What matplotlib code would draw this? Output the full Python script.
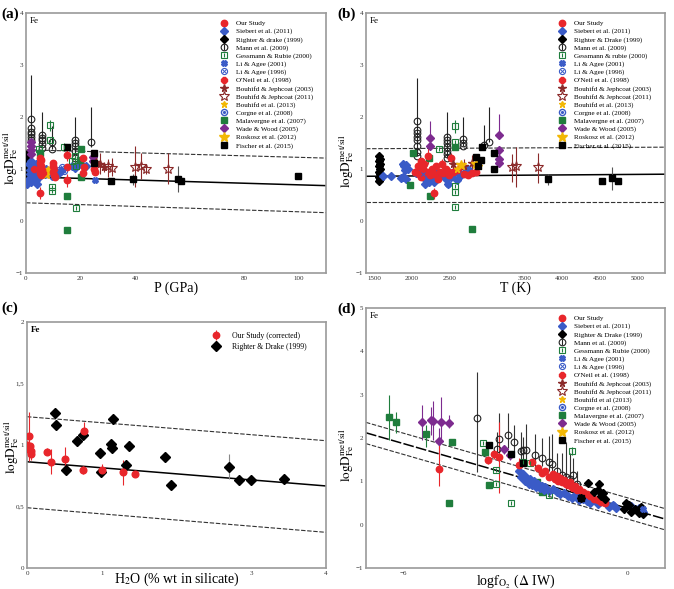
import numpy as np
import matplotlib
matplotlib.use('Agg')
import matplotlib.pyplot as plt
from matplotlib.lines import Line2D

plt.rcParams['font.family'] = ['Liberation Serif', 'DejaVu Serif']
plt.rcParams['mathtext.fontset'] = 'stix'

RED = '#e8262b'
BLUE = '#3a5bc7'
GREEN = '#1f7d3c'
PURPLE = '#7d2b8f'
DARKRED = '#8b2a2a'
GOLD = '#f2b705'

# ---------------- panel (a): P (GPa) ----------------
A_RIGHTER_X = [0.4, 0.6, 0.4, 0.6, 0.4, 0.6, 0.4, 0.6, 0.4, 0.6, 0.4, 1.0, 1.0, 1.0]
A_RIGHTER_Y = [0.78, 0.83, 0.88, 0.93, 0.98, 1.03, 1.08, 1.13, 1.18, 1.23, 1.28, 0.85, 0.95, 1.1]
A_SIEBERT_X = [0.5, 1, 1.5, 2, 2.5, 3, 3, 3.5, 4, 4, 4.5, 5, 1, 2, 3, 4, 1.5, 2.5, 3.5,
               6, 7, 7.5, 8, 10, 11, 12, 13, 17, 18, 19, 20, 22]
A_SIEBERT_Y = [0.72, 0.8, 0.9, 0.75, 0.85, 0.95, 1.05, 0.78, 0.88, 1.0, 0.82, 0.92, 1.1, 1.15,
               1.08, 0.72, 0.98, 1.0, 1.1, 0.95, 0.9, 1.0, 0.93, 0.95, 0.9, 0.92, 0.97, 1.05,
               1.02, 1.08, 1.1, 1.05]
A_OUR_X = [5.0, 5.3, 5.3, 5.3, 5.3, 5.6, 5.6, 5.6, 6.0, 9.8, 10.0, 10.0, 10.2, 10.2, 10.5,
           15.1, 15.1, 15.1, 20.8, 21.0, 21.2, 25.3, 25.0]
A_OUR_Y = [0.54, 1.22, 1.12, 1.02, 0.92, 1.17, 1.05, 0.88, 0.98, 1.12, 1.05, 0.95, 0.88, 1.0,
           0.85, 1.26, 1.04, 0.78, 1.22, 0.92, 1.04, 0.94, 1.0]
A_OUR_ERR = [0.12, 0.08, 0.05, 0, 0, 0.05, 0, 0, 0, 0.05, 0, 0, 0, 0, 0, 0.1, 0, 0.12,
             0.05, 0, 0, 0.05, 0]
A_MANN_X = [2, 2, 2, 2, 2, 2, 6, 6, 6, 6, 6, 9.5, 9.5, 18, 18, 18, 18, 18, 24]
A_MANN_Y = [1.97, 1.78, 1.72, 1.67, 1.62, 1.55, 1.65, 1.6, 1.55, 1.48, 1.4, 1.52, 1.38,
            1.55, 1.5, 1.45, 1.35, 1.22, 1.52]
A_MANN_HI = [0.83, 0, 0, 0, 0, 0, 0.45, 0, 0, 0, 0, 0.3, 0, 0.45, 0, 0, 0, 0, 0.68]
A_MANN_LO = [0.42, 0, 0, 0, 0, 0, 0.25, 0, 0, 0, 0, 0.14, 0, 0.33, 0, 0, 0, 0, 0.1]
A_GESS_X = [4.8, 8.8, 8.8, 9.5, 9.5, 13.9, 18.0, 18.3, 18.2, 17.0]
A_GESS_Y = [1.38, 1.84, 1.55, 0.66, 0.57, 1.42, 1.25, 1.05, 0.25, 1.15]
A_GESS_ERR = [0, 0.1, 0, 0, 0, 0.08, 0, 0, 0, 0]
A_MALAV_X = [14.9, 14.9, 19.9, 20.0, 20.0, 5.3]
A_MALAV_Y = [0.49, -0.17, 1.17, 1.39, 0.85, 1.3]
A_WADE_X = [2, 2, 2, 2, 24.5, 24.5]
A_WADE_Y = [1.52, 1.44, 1.36, 1.28, 1.23, 1.15]
A_FISCH_X = [15, 25, 25, 31.1, 39.1, 55.8, 57.0, 99.7]
A_FISCH_Y = [1.42, 1.3, 1.12, 0.76, 0.80, 0.80, 0.76, 0.87]
A_FISCH_ERR = [0, 0, 0, 0, 0.1, 0.25, 0, 0]
A_BJ03_X = [25.5, 27.0, 28.6]
A_BJ03_Y = [1.13, 1.1, 1.04]
A_BJ03_ERR = [0.15, 0.2, 0.1]
A_BJ11_X = [30.0, 31.6, 39.9, 42.0, 44.0, 51.9]
A_BJ11_Y = [1.05, 1.02, 1.04, 1.05, 1.0, 1.0]
A_BJ11_HI = [0.15, 0.2, 0.4, 0.25, 0.1, 0.3]
A_BJ11_LO = [0.2, 0.15, 0.38, 0.25, 0.1, 0.28]
A_LI01_X = [10, 25.3]
A_LI01_Y = [0.85, 0.78]
A_LI96_X = [12.1, 13.3, 13.8]
A_LI96_Y = [0.98, 1.04, 0.96]
A_ONEIL_X = [3.0, 6.4]
A_ONEIL_Y = [1.0, 0.92]
A_B13_X = [7.0, 8.0]
A_B13_Y = [0.95, 1.0]
A_ROSK_X = [7.5]
A_ROSK_Y = [0.9]
FIT_A_X = [0, 110]
FIT_A_MID = [0.85, 0.68]
FIT_A_UP = [1.37, 1.21]
FIT_A_LO = [0.35, 0.16]

# ---------------- panel (b): T (K) ----------------
B_RIGHTER_X = [1565, 1580, 1565, 1580, 1565, 1580, 1565, 1580, 1565, 1580, 1565, 1580]
B_RIGHTER_Y = [0.76, 0.8, 0.85, 0.9, 0.95, 1.0, 1.05, 1.1, 1.15, 1.2, 1.25, 0.82]
B_SIEBERT_X = [1615, 1726, 1860, 1880, 1890, 1900, 1910, 1920, 1930, 1950, 2060, 2100, 2150,
               2180, 2200, 2230, 2250, 2280, 2300, 2330, 2350, 2400, 2450, 2480, 2500, 2520,
               2560, 2600, 2650, 2700, 2750]
B_SIEBERT_Y = [0.86, 0.86, 0.83, 1.1, 0.85, 1.05, 0.98, 0.8, 1.08, 1.0, 0.92, 0.95, 0.85,
               0.72, 0.8, 0.75, 0.9, 0.78, 0.75, 0.95, 0.85, 0.9, 0.8, 0.72, 0.95, 0.85,
               0.92, 0.78, 0.88, 0.92, 1.0]
B_OUR_X = [2050, 2080, 2100, 2120, 2130, 2150, 2170, 2200, 2220, 2250, 2270, 2300, 2300,
           2330, 2350, 2380, 2400, 2420, 2450, 2480, 2500, 2520, 2550, 2600, 2650, 2700,
           2750, 2800, 2850]
B_OUR_Y = [0.95, 1.05, 0.9, 1.15, 0.85, 1.0, 1.1, 0.95, 1.25, 0.88, 1.0, 0.9, 0.53, 1.05,
           0.8, 0.95, 1.1, 0.92, 1.0, 0.95, 0.88, 1.22, 0.95, 0.98, 1.05, 0.9, 0.88, 0.92,
           0.95]
B_OUR_ERR = [0, 0.08, 0, 0, 0, 0, 0.1, 0, 0.15, 0, 0, 0, 0.1, 0, 0, 0, 0.1, 0, 0, 0, 0,
             0.08, 0, 0, 0.1, 0, 0, 0.05, 0]
B_MANN_X = [2071] * 8 + [2465] * 7 + [2686] * 3 + [2965, 3023]
B_MANN_Y = [1.93, 1.75, 1.7, 1.62, 1.55, 1.45, 1.33, 1.25, 1.62, 1.55, 1.5, 1.42, 1.35,
            1.28, 1.22, 1.57, 1.5, 1.45, 1.47, 1.52]
B_MANN_HI = [0.82] + [0] * 7 + [0.48] + [0] * 6 + [0.43, 0, 0, 0.38, 0.68]
B_MANN_LO = [0.68] + [0] * 7 + [0.4] + [0] * 6 + [0.12, 0, 0, 0, 0]
B_GESS_X = [2576, 2576, 2576, 2576, 2576, 2360]
B_GESS_Y = [1.82, 1.52, 0.68, 0.55, 0.26, 1.38]
B_GESS_ERR = [0.12, 0, 0, 0, 0, 0]
B_MALAV_X = [2014, 1982, 2244, 2801, 2576, 2230]
B_MALAV_Y = [1.3, 0.69, 0.48, -0.15, 1.42, 1.22]
B_WADE_X = [2244, 2244, 3164, 3164, 3164, 3164]
B_WADE_Y = [1.6, 1.45, 1.65, 1.37, 1.2, 1.12]
B_WADE_HI = [0.32, 0, 0.4, 0, 0, 0]
B_WADE_LO = [0, 0, 0, 0, 0, 0]
B_FISCH_X = [2855, 2920, 2940, 3100, 3100, 2880, 3815, 4524, 4657, 4745]
B_FISCH_Y = [1.23, 1.18, 1.42, 1.3, 1.0, 1.05, 0.8, 0.76, 0.82, 0.76]
B_FISCH_ERR = [0, 0, 0, 0, 0, 0, 0.1, 0, 0.22, 0]
B_BJ11_X = [3328, 3386, 3682]
B_BJ11_Y = [1.03, 1.05, 1.04]
B_BJ11_HI = [0.25, 0.38, 0.27]
B_BJ11_LO = [0.28, 0.4, 0.3]
B_BJ03_X = [2550, 2700, 2800]
B_BJ03_Y = [1.1, 1.05, 1.12]
B_BJ03_ERR = [0.15, 0.15, 0.15]
B_ROSK_X = [2650, 2850]
B_ROSK_Y = [1.08, 1.1]
B_B13_X = [2600, 2900]
B_B13_Y = [1.0, 1.05]
B_LI01_X = [2480]
B_LI01_Y = [0.72]
B_LI96_X = [2150]
B_LI96_Y = [0.9]
FIT_B_X = [1394, 5364]
FIT_B_MID = [0.86, 0.9]
FIT_B_UP = [1.39, 1.42]
FIT_B_LO = [0.36, 0.36]

# ---------------- panel (c): H2O ----------------
C_OUR_X = [0.0, 0.02, 0.03, 0.04, 0.05, 0.06, 0.27, 0.32, 0.51, 0.75, 0.76, 1.0, 1.29, 1.44]
C_OUR_Y = [1.0, 0.97, 1.07, 0.99, 0.95, 0.93, 0.945, 0.865, 0.886, 0.797, 1.116, 0.797,
           0.778, 0.764]
C_OUR_ERR = [0.03, 0.04, 0.2, 0.03, 0.05, 0.05, 0.03, 0.1, 0.1, 0.03, 0.07, 0.05, 0.1, 0.02]
C_RIGHTER_X = [0.375, 0.39, 0.52, 0.67, 0.75, 0.97, 0.99, 1.13, 1.14, 1.15, 1.32, 1.37,
               1.84, 1.93, 2.70, 2.84, 3.0, 3.44]
C_RIGHTER_Y = [1.258, 1.163, 0.794, 1.035, 1.081, 0.932, 0.783, 1.008, 0.973, 1.209, 0.835,
               0.994, 0.905, 0.672, 0.824, 0.715, 0.715, 0.724]
C_RIGHTER_ERR = [0, 0.03, 0, 0, 0.02, 0, 0, 0, 0, 0, 0.03, 0, 0, 0, 0.1, 0, 0, 0]
FIT_C_X = [0, 4]
FIT_C_MID = [0.864, 0.667]
FIT_C_UP = [1.23, 1.035]
FIT_C_LO = [0.49, 0.29]

# ---------------- panel (d): log fO2 ----------------
D_SIEBERT_X = [-2.9, -2.85, -2.8, -2.75, -2.7, -2.65, -2.6, -2.55, -2.5, -2.45, -2.4, -2.35,
               -2.3, -2.25, -2.2, -2.1, -2.0, -1.9, -1.8, -1.7, -1.6, -1.5, -1.4, -1.3, -1.2,
               -1.1, -1.0, -0.8, -0.6, -0.5, -0.4, -0.3, 0.1, 0.2, 0.3, 0.4]
D_SIEBERT_Y = [1.25, 1.1, 1.18, 1.0, 1.08, 0.95, 1.05, 0.92, 1.0, 0.88, 0.95, 0.85, 0.9,
               0.8, 0.86, 0.78, 0.82, 0.75, 0.7, 0.72, 0.65, 0.62, 0.68, 0.58, 0.6, 0.55,
               0.5, 0.48, 0.52, 0.4, 0.45, 0.38, 0.42, 0.35, 0.38, 0.3]
D_OUR_X = [-5.05, -3.74, -3.57, -3.44, -2.9, -2.55, -2.4, -2.3, -2.2, -2.1, -2.0, -1.95,
           -1.9, -1.85, -1.8, -1.75, -1.7, -1.65, -1.6, -1.55, -1.5, -1.45, -1.4, -1.35,
           -1.3, -1.2, -1.1, -1.0, -0.9, -0.8, -0.7, -0.6]
D_OUR_Y = [1.28, 1.49, 1.62, 1.57, 1.38, 1.45, 1.3, 1.2, 1.25, 1.1, 1.18, 1.05, 1.12, 1.0,
           1.08, 0.98, 1.02, 0.95, 0.92, 0.98, 0.88, 0.85, 0.9, 0.8, 0.82, 0.75, 0.7, 0.65,
           0.6, 0.58, 0.52, 0.49]
D_OUR_HI = [0.6, 0.1, 0.1, 0.8, 0.15] + [0] * 27
D_OUR_LO = [0.38, 0.1, 0.1, 0.85, 0.05] + [0] * 27
D_RIGHTER_X = [-1.24, -1.07, -0.9, -0.8, -0.76, -0.7, -0.65, -0.6, -0.1, -0.05, 0.05, 0.1,
               0.2, 0.3, 0.35, 0.4]
D_RIGHTER_Y = [0.61, 0.97, 0.75, 0.8, 0.95, 0.65, 0.72, 0.6, 0.37, 0.5, 0.45, 0.3, 0.35,
               0.28, 0.4, 0.25]
D_MANN_X = [-4.03, -3.5, -3.44, -3.2, -3.05, -2.85, -2.8, -2.72, -2.48, -2.29, -2.1, -2.03,
            -1.9, -1.75, -1.65, -1.55, -1.45, -1.35]
D_MANN_Y = [2.47, 1.74, 1.97, 2.07, 1.9, 1.7, 1.72, 1.73, 1.6, 1.55, 1.45, 1.4, 1.25, 1.15,
            1.1, 1.05, 1.15, 0.95]
D_MANN_HI = [1.05, 0.4, 0.6, 0.5, 0.4, 0.45, 0.3, 0.6, 0.5, 0.45, 0.6, 0.7, 0.4, 0.5, 0.8,
             0.6, 0.4, 0.3]
D_MANN_LO = [1.25, 0.2, 0.3, 0.3, 0.2, 0.2, 0.2, 0.3, 0.3, 0.2, 0.2, 0.3, 0.2, 0.2, 0.3,
             0.2, 0.2, 0.2]
D_GESS_X = [-3.88, -3.52, -3.52, -3.11, -2.8, -2.6, -2.1, -1.49]
D_GESS_Y = [1.88, 1.26, 0.95, 0.51, 1.45, 1.42, 0.68, 1.7]
D_GESS_ERR = [0, 0, 0, 0, 0, 0, 0, 0.1]
D_MALAV_X = [-6.39, -6.19, -5.39, -4.79, -4.69, -3.81, -3.7, -2.43, -2.3]
D_MALAV_Y = [2.48, 2.36, 2.09, 0.51, 1.91, 1.67, 0.91, 0.99, 0.76]
D_MALAV_HI = [0.52, 0.25, 0.2, 0, 0, 0, 0, 0, 0]
D_MALAV_LO = [0.53, 0.25, 0.3, 0, 0, 0, 0, 0, 0]
D_WADE_X = [-5.5, -5.27, -5.2, -5.06, -4.99, -4.77, -3.31, -3.15]
D_WADE_Y = [2.36, 2.41, 2.4, 1.93, 2.38, 2.34, 1.74, 1.6]
D_WADE_HI = [0.4, 0.3, 0.45, 0.3, 0.57, 0.2, 0.1, 0.1]
D_WADE_LO = [0.4, 0.35, 0.45, 0.3, 0.4, 0.1, 0.1, 0.1]
D_FISCH_X = [-3.7, -3.13, -2.79, -1.24]
D_FISCH_Y = [1.84, 1.64, 1.42, 0.61]
D_LI01_X = [-0.39, 0.4]
D_LI01_Y = [0.45, 0.35]
FIT_D_X = [-7, 1]
FIT_D_MID = [2.12, 0.13]
FIT_D_UP = [2.36, 0.37]
FIT_D_LO = [1.87, -0.12]

KEYS = ['our', 'siebert', 'righter', 'mann', 'gess', 'li01', 'li96', 'oneil', 'bj03', 'bj11',
        'b13', 'corgne', 'malav', 'wade', 'rosk', 'fisch']
LABELS_A = ["Our Study", "Siebert et al. (2011)", "Righter & drake (1999)", "Mann et al. (2009)",
            "Gessmann & Rubie (2000)", "Li & Agee (2001)", "Li & Agee (1996)",
            "O'Neil et al. (1998)", "Bouhifd & Jephcoat (2003)", "Bouhifd & Jephcoat (2011)",
            "Bouhifd et al. (2013)", "Corgne et al. (2008)", "Malavergne et al. (2007)",
            "Wade & Wood (2005)", "Roskosz et al. (2012)", "Fischer et al. (2015)"]
LABELS_B = list(LABELS_A)
LABELS_B[2] = "Righter & Drake (1999)"
LABELS_B[4] = "Gessmann & rubie (2000)"
LABELS_D = list(LABELS_A)
LABELS_D[2] = "Righter & Drake (1999)"
LABELS_D[10] = "Bouhifd et al (2013)"
LABELS_C = ["Our Study (corrected)", "Righter & Drake (1999)"]

STY = {
    'our': dict(marker='o', mfc=RED, mec=RED, ms=4.6),
    'siebert': dict(marker='D', mfc=BLUE, mec=BLUE, ms=3.6),
    'righter': dict(marker='D', mfc='k', mec='k', ms=4.0),
    'mann': dict(marker='o', mfc='none', mec='#222222', ms=4.8, mew=0.8),
    'gess': dict(marker='s', mfc='none', mec=GREEN, ms=4.4, mew=0.8),
    'li01': dict(marker='X', mfc=BLUE, mec=BLUE, ms=4.2),
    'li96': dict(marker='o', mfc='none', mec=BLUE, ms=4.4, mew=0.8),
    'oneil': dict(marker='8', mfc=RED, mec=RED, ms=4.4),
    'bj03': dict(marker='*', mfc=DARKRED, mec=DARKRED, ms=5.5),
    'bj11': dict(marker='*', mfc='none', mec=DARKRED, ms=7, mew=0.8),
    'b13': dict(marker='*', mfc=GOLD, mec=GOLD, ms=4.5),
    'corgne': dict(marker='o', mfc='none', mec=BLUE, ms=4.4, mew=1.0),
    'malav': dict(marker='s', mfc=GREEN, mec=GREEN, ms=4.2),
    'wade': dict(marker='D', mfc=PURPLE, mec=PURPLE, ms=3.8),
    'rosk': dict(marker='*', mfc=GOLD, mec=GOLD, ms=7),
    'fisch': dict(marker='s', mfc='k', mec='k', ms=4.4),
}
INNER = {
    'mann': dict(marker='|', color='#222222', ms=5, mew=0.8),
    'gess': dict(marker='|', color=GREEN, ms=3, mew=0.8),
    'li96': dict(marker='x', color=BLUE, ms=3, mew=0.7),
    'corgne': dict(marker='.', color=BLUE, ms=2.5),
}


def series(ax, key, x, y, hi=None, lo=None, ecol='k', z=3, ms=None):
    if hi is not None:
        if lo is None:
            lo = hi
        ax.errorbar(x, y, yerr=[lo, hi], fmt='none', ecolor=ecol, elinewidth=0.8,
                    zorder=z - 0.5)
    st = dict(STY[key])
    if ms:
        st['ms'] = ms
    ax.plot(x, y, ls='none', zorder=z, **st)
    if key in ('gess', 'li96'):
        ax.plot(x, y, ls='none', zorder=z + 0.1, **INNER[key])


def fits(ax, x, mid, up, lo, mid_ls='-'):
    ax.plot(x, mid, color='k', lw=1.1, ls=mid_ls, zorder=1)
    ax.plot(x, up, color='#333333', lw=0.8, ls=(0, (4, 1.5)), zorder=1)
    ax.plot(x, lo, color='#333333', lw=0.8, ls=(0, (4, 1.5)), zorder=1)


def setup(ax, xlim, ylim, xticks, yticks, xlab, ylab_xy, xlab_y=-0.058, xtl=None, ytl=None,
          fe_bold=False):
    ax.set_xlim(xlim)
    ax.set_ylim(ylim)
    ax.set_xticks(xticks)
    ax.set_yticks(yticks)
    if xtl:
        ax.set_xticklabels(xtl)
    if ytl:
        ax.set_yticklabels(ytl)
    for s in ax.spines.values():
        s.set_color('#9a9a9a')
        s.set_linewidth(1.2)
    ax.tick_params(length=0, labelsize=5, pad=2, colors='#333333')
    ax.set_xlabel(xlab, fontsize=10)
    ax.xaxis.set_label_coords(0.5, xlab_y)
    ax.xaxis.label.set_va('center')
    ax.set_ylabel(r'$\mathrm{logD}^{\mathrm{met/sil}}_{\mathrm{Fe}}$', fontsize=9.5)
    ax.yaxis.set_label_coords(*ylab_xy)
    ax.yaxis.label.set_va('center')
    ax.text(0.012, 0.985, 'Fe', transform=ax.transAxes, va='top', ha='left', fontsize=6.5,
            fontweight='bold' if fe_bold else 'normal')


def legend(ax, labels, anchor, keys=KEYS, fs=5.1, sp=0.26):
    handles = []
    for k in keys:
        h = Line2D([], [], ls='none', **STY[k])
        if k in INNER:
            h = (h, Line2D([], [], ls='none', **INNER[k]))
        handles.append(h)
    ax.legend(handles, labels, loc='upper left', bbox_to_anchor=anchor, frameon=False,
              fontsize=fs, labelspacing=sp, handletextpad=1.2, handlelength=1.0,
              borderpad=0, borderaxespad=0)


W, H = 674, 589
fig = plt.figure(figsize=(W / 100, H / 100), dpi=100)


def box(l, t, r, b):
    return [l / W, 1 - b / H, (r - l) / W, (b - t) / H]


ax_a = fig.add_axes(box(26, 13, 326, 273))
ax_b = fig.add_axes(box(366, 13, 665, 273))
ax_c = fig.add_axes(box(27, 322, 326, 568))
ax_d = fig.add_axes(box(366, 308, 665, 568))

# (a)
ax = ax_a
fits(ax, FIT_A_X, FIT_A_MID, FIT_A_UP, FIT_A_LO)
series(ax, 'righter', A_RIGHTER_X, A_RIGHTER_Y)
series(ax, 'siebert', A_SIEBERT_X, A_SIEBERT_Y)
series(ax, 'mann', A_MANN_X, A_MANN_Y, A_MANN_HI, A_MANN_LO, ecol='#222222')
series(ax, 'wade', A_WADE_X, A_WADE_Y)
series(ax, 'gess', A_GESS_X, A_GESS_Y, A_GESS_ERR, ecol=GREEN)
series(ax, 'malav', A_MALAV_X, A_MALAV_Y)
series(ax, 'li96', A_LI96_X, A_LI96_Y)
series(ax, 'li01', A_LI01_X, A_LI01_Y)
series(ax, 'b13', A_B13_X, A_B13_Y)
series(ax, 'rosk', A_ROSK_X, A_ROSK_Y)
series(ax, 'oneil', A_ONEIL_X, A_ONEIL_Y)
series(ax, 'our', A_OUR_X, A_OUR_Y, A_OUR_ERR, ecol=RED)
series(ax, 'bj03', A_BJ03_X, A_BJ03_Y, A_BJ03_ERR, ecol=DARKRED)
series(ax, 'bj11', A_BJ11_X, A_BJ11_Y, A_BJ11_HI, A_BJ11_LO, ecol=DARKRED)
series(ax, 'fisch', A_FISCH_X, A_FISCH_Y, A_FISCH_ERR, ecol='#555555')
setup(ax, (0, 110), (-1, 4), [0, 20, 40, 80, 100], [-1, 0, 1, 2, 3, 4], 'P (GPa)',
      (-0.05, 0.44))
legend(ax, LABELS_A, (0.647, 0.972))

# (b)
ax = ax_b
fits(ax, FIT_B_X, FIT_B_MID, FIT_B_UP, FIT_B_LO)
series(ax, 'righter', B_RIGHTER_X, B_RIGHTER_Y)
series(ax, 'siebert', B_SIEBERT_X, B_SIEBERT_Y)
series(ax, 'mann', B_MANN_X, B_MANN_Y, B_MANN_HI, B_MANN_LO, ecol='#222222')
series(ax, 'gess', B_GESS_X, B_GESS_Y, B_GESS_ERR, ecol=GREEN)
series(ax, 'malav', B_MALAV_X, B_MALAV_Y)
series(ax, 'wade', B_WADE_X, B_WADE_Y, B_WADE_HI, B_WADE_LO, ecol=PURPLE)
series(ax, 'li96', B_LI96_X, B_LI96_Y)
series(ax, 'li01', B_LI01_X, B_LI01_Y)
series(ax, 'our', B_OUR_X, B_OUR_Y, B_OUR_ERR, ecol=RED)
series(ax, 'bj03', B_BJ03_X, B_BJ03_Y, B_BJ03_ERR, ecol=DARKRED)
series(ax, 'b13', B_B13_X, B_B13_Y)
series(ax, 'rosk', B_ROSK_X, B_ROSK_Y)
series(ax, 'bj11', B_BJ11_X, B_BJ11_Y, B_BJ11_HI, B_BJ11_LO, ecol=DARKRED)
series(ax, 'fisch', B_FISCH_X, B_FISCH_Y, B_FISCH_ERR, ecol='#555555')
setup(ax, (1394, 5364), (-1, 4), [1500, 2000, 2500, 3500, 4000, 4500, 5000],
      [-1, 0, 1, 2, 3, 4], 'T (K)', (-0.066, 0.43))
legend(ax, LABELS_B, (0.645, 0.972))

# (c)
ax = ax_c
fits(ax, FIT_C_X, FIT_C_MID, FIT_C_UP, FIT_C_LO)
series(ax, 'righter', C_RIGHTER_X, C_RIGHTER_Y, C_RIGHTER_ERR, ecol='#888888', ms=5)
series(ax, 'our', C_OUR_X, C_OUR_Y, C_OUR_ERR, ecol=RED, ms=4.8)
setup(ax, (0, 4), (0, 2), [0, 1, 3, 4], [0, 0.5, 1, 1.5, 2], r'H$_2$O (% wt in silicate)',
      (-0.053, 0.49), xlab_y=-0.048, xtl=['0', '1', '3', '4'],
      ytl=['0', '0,5', '1', '1,5', '2'], fe_bold=True)
hc = [(Line2D([], [], ls='none', **STY['our']),
       Line2D([], [], ls='none', marker='|', color=RED, ms=7, mew=0.8)),
      Line2D([], [], ls='none', marker='D', mfc='k', mec='k', ms=4.6)]
ax.legend(hc, LABELS_C, loc='upper left', bbox_to_anchor=(0.619, 0.959), frameon=False,
          fontsize=5.6, labelspacing=0.35, handletextpad=1.5, handlelength=1.0,
          borderpad=0, borderaxespad=0)

# (d)
ax = ax_d
fits(ax, FIT_D_X, FIT_D_MID, FIT_D_UP, FIT_D_LO, mid_ls=(0, (7, 1.5)))
series(ax, 'mann', D_MANN_X, D_MANN_Y, D_MANN_HI, D_MANN_LO, ecol='#333333')
series(ax, 'malav', D_MALAV_X, D_MALAV_Y, D_MALAV_HI, D_MALAV_LO, ecol=GREEN)
series(ax, 'wade', D_WADE_X, D_WADE_Y, D_WADE_HI, D_WADE_LO, ecol=PURPLE)
series(ax, 'gess', D_GESS_X, D_GESS_Y, D_GESS_ERR, ecol=GREEN)
series(ax, 'siebert', D_SIEBERT_X, D_SIEBERT_Y)
series(ax, 'our', D_OUR_X, D_OUR_Y, D_OUR_HI, D_OUR_LO, ecol=RED)
series(ax, 'righter', D_RIGHTER_X, D_RIGHTER_Y)
series(ax, 'li01', D_LI01_X, D_LI01_Y)
series(ax, 'fisch', D_FISCH_X, D_FISCH_Y)
setup(ax, (-7, 1), (-1, 5), [-6, 0], [-1, 0, 1, 2, 3, 4, 5],
      r'log$\mathrm{f}_{\mathrm{O_2}}$ ($\Delta$ IW)', (-0.066, 0.435), xlab_y=-0.05)
legend(ax, LABELS_D, (0.645, 0.972))

for txt, px, py in [('(a)', 1, 14), ('(b)', 337, 14), ('(c)', 1, 308), ('(d)', 337, 309)]:
    fig.text(px / W, 1 - py / H, txt, fontsize=11, fontweight='bold', va='center', ha='left')

fig.savefig('out.png', dpi=100)
